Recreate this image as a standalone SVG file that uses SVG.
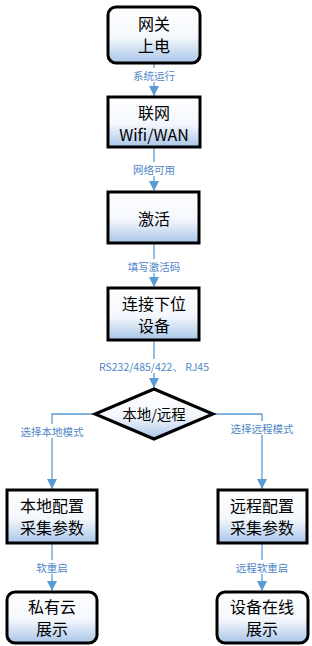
<svg xmlns="http://www.w3.org/2000/svg" width="312" height="646" viewBox="0 0 312 646">
<style>
.box{stroke:#000;stroke-width:3;fill:url(#g)}
.nt{font-family:"Noto Sans CJK SC","Microsoft YaHei",sans-serif;font-size:16px;fill:#000;text-anchor:middle;dominant-baseline:central}
.lt{font-family:"Noto Sans CJK SC",sans-serif;font-size:10.5px;fill:#4f86c6;text-anchor:middle;dominant-baseline:central}
.ln{stroke:#5b9bd5;stroke-width:1.3;fill:none;marker-end:url(#a)}
.bg{fill:#fff}
</style>
<defs>
<linearGradient id="g" x1="0" y1="0" x2="0" y2="1">
<stop offset="0" stop-color="#ffffff"/>
<stop offset="0.55" stop-color="#f3f7fc"/>
<stop offset="1" stop-color="#a8c5e8"/>
</linearGradient>
<marker id="a" markerUnits="userSpaceOnUse" markerWidth="12" markerHeight="10" refX="10" refY="5" orient="auto">
<path d="M0,0 L10,5 L0,10 Z" fill="#5b9bd5"/>
</marker>
</defs>
<g id="connectors">
<path class="ln" d="M154,63 V96"/>
<path class="ln" d="M154,147 V191"/>
<path class="ln" d="M154,243 V287"/>
<path class="ln" d="M154,340 V388"/>
<path class="ln" d="M95,414 H52 V489"/>
<path class="ln" d="M213,414 H262 V489"/>
<path class="ln" d="M52,543 V591"/>
<path class="ln" d="M262,543 V591"/>
<rect class="bg" x="129" y="68" width="50" height="14"/>
<text class="lt" x="154" y="75">系统运行</text>
<rect class="bg" x="129" y="162" width="50" height="14"/>
<text class="lt" x="154" y="169">网络可用</text>
<rect class="bg" x="124" y="259" width="60" height="14"/>
<text class="lt" x="154" y="266">填写激活码</text>
<rect class="bg" x="100" y="359" width="108" height="14"/>
<text class="lt" x="154" y="366">RS232/485/422、 RJ45</text>
<rect class="bg" x="16" y="424" width="72" height="14"/>
<text class="lt" x="52" y="431">选择本地模式</text>
<rect class="bg" x="226" y="421" width="72" height="14"/>
<text class="lt" x="262" y="428">选择远程模式</text>
<rect class="bg" x="35" y="560" width="34" height="14"/>
<text class="lt" x="52" y="567">软重启</text>
<rect class="bg" x="234" y="560" width="56" height="14"/>
<text class="lt" x="262" y="567">远程软重启</text>
</g>
<g id="n1">
<rect class="box" x="108" y="7" width="92" height="56" rx="8"/>
<text class="nt" x="154" y="23">网关</text>
<text class="nt" x="154" y="45">上电</text>
</g>
<g id="n2">
<rect class="box" x="108" y="97" width="92" height="50"/>
<text class="nt" x="154" y="112">联网</text>
<text class="nt" x="154" y="134">Wifi/WAN</text>
</g>
<g id="n3">
<rect class="box" x="108" y="192" width="91" height="51"/>
<text class="nt" x="154" y="218">激活</text>
</g>
<g id="n4">
<rect class="box" x="108" y="288" width="91" height="52"/>
<text class="nt" x="154" y="303">连接下位</text>
<text class="nt" x="154" y="325">设备</text>
</g>
<g id="n5">
<polygon class="box" points="154,389 213,414 154,439 95,414"/>
<text class="nt" x="154" y="413" style="font-size:14.5px">本地/远程</text>
</g>
<g id="n6">
<rect class="box" x="7" y="490" width="90" height="53"/>
<text class="nt" x="52" y="505">本地配置</text>
<text class="nt" x="52" y="527">采集参数</text>
</g>
<g id="n7">
<rect class="box" x="218" y="490" width="89" height="53"/>
<text class="nt" x="262" y="505">远程配置</text>
<text class="nt" x="262" y="527">采集参数</text>
</g>
<g id="n8">
<rect class="box" x="7" y="592" width="90" height="51" rx="8"/>
<text class="nt" x="52" y="606">私有云</text>
<text class="nt" x="52" y="628">展示</text>
</g>
<g id="n9">
<rect class="box" x="217" y="592" width="91" height="51" rx="8"/>
<text class="nt" x="262" y="606">设备在线</text>
<text class="nt" x="262" y="628">展示</text>
</g>
</svg>
